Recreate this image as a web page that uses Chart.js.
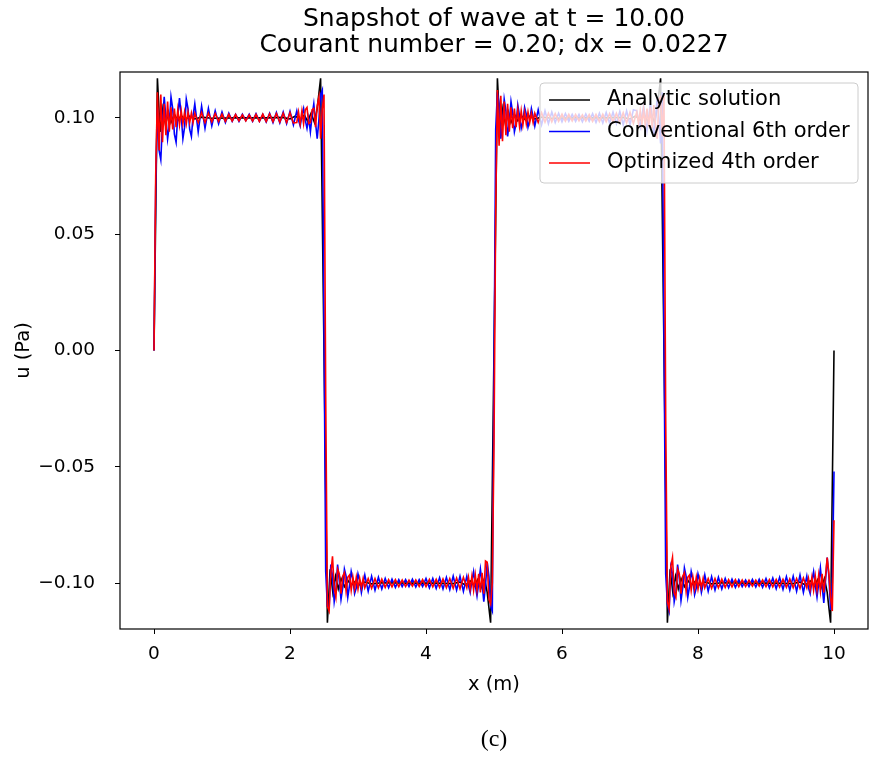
<!DOCTYPE html>
<html>
<head>
<meta charset="utf-8">
<script src="https://cdn.jsdelivr.net/npm/chart.js@4.4.1/dist/chart.umd.min.js"></script>
<style>
  html, body { margin: 0; padding: 0; background: #fff; }
  canvas { display: block; }
</style>
</head>
<body>
<canvas id="chart" width="872" height="762"></canvas>
<script>
// values are in mPa, converted to Pa when the datasets are built
const SEGMENT_STARTS = [0, 2.5, 5, 7.5];
const X_END = 10;

// sample positions inside each 2.5 m segment
const GRID_OFFSETS = [
  0, 0.025, 0.05, 0.075, 0.1, 0.125, 0.15, 0.175, 0.2, 0.225,
  0.25, 0.275, 0.3, 0.325, 0.35, 0.375, 0.4, 0.425, 0.45, 0.475,
  0.5, 0.525, 0.55, 0.575, 0.6,
  0.65, 0.7, 0.75, 0.8, 0.85, 0.9, 0.95, 1.0, 1.05, 1.1,
  1.15, 1.2, 1.25, 1.3, 1.35, 1.4, 1.45, 1.5, 1.55, 1.6,
  1.65, 1.7, 1.75, 1.8, 1.85, 1.9, 1.95, 2.0, 2.05,
  2.1, 2.125, 2.15, 2.175, 2.2, 2.225, 2.25, 2.275, 2.3, 2.325,
  2.35, 2.375, 2.4, 2.425, 2.45, 2.475
];

// Conventional 6th order (blue)
const conv6Seg1 = [
  0, 70, 104, 86, 82, 98, 109, 100, 91, 97,
  109, 104, 93, 89.5, 101, 108.5, 101, 91, 96, 108,
  104, 95, 92, 101, 106,
  94, 105, 95.5, 104, 96.5, 103, 97.5, 102.5, 98, 102,
  98.5, 101.5, 98.5, 101.5, 98.8, 101.5, 98.5, 101.8, 98.5, 101.5,
  98.2, 102, 98, 102.3, 97.8, 102.5, 97.5, 102.8, 97,
  103, 99, 96.5, 101, 104, 99, 95.5, 100, 94, 101, 106, 98, 91, 99, 110, 112
];
const conv6Seg2 = [
  10, -95, -110, -111, -92, -97, -108, -103, -92, -99,
  -107, -102, -94, -97, -106, -101, -95, -98.5, -104.5, -102,
  -96, -99, -104, -100, -96.5,
  -103.5, -97, -103, -97.5, -102.5, -98, -102, -98.3, -101.8, -98.5,
  -101.5, -98.5, -101.5, -98.3, -101.7, -98.5, -101.5, -98, -102, -98,
  -102.3, -97.7, -102.5, -97.5, -102.8, -97, -103, -97, -103.5,
  -97, -101, -104, -99, -95, -101, -105.5, -100, -94, -100, -108, -101, -91, -97, -110, -112
];
const conv6Seg3 = [
  -10, 95, 111, 106, 91, 97, 108, 103, 92, 98,
  107, 102, 94, 97.5, 105.5, 101, 95.5, 98.5, 104.5, 101.5,
  96, 99, 104, 100.5, 96.5,
  103.5, 97, 103, 97.5, 102.5, 98, 102, 98.3, 101.8, 98.5,
  101.5, 98.5, 101.5, 98.3, 101.7, 98.5, 101.8, 98, 102, 97.8,
  102.3, 97.7, 102.5, 97.5, 102.8, 97, 103, 97, 103.5,
  103, 99, 96, 101, 105, 100, 94.5, 100, 106.5, 100, 92, 99, 109, 100, 89, 111
];
const conv6Seg4 = [
  5, -96, -109, -112, -93, -96, -108, -104, -92, -98,
  -107.5, -102, -93.5, -97, -106, -101.5, -95, -98.5, -105, -102,
  -96, -99, -104, -100.5, -96.5,
  -103.5, -97.2, -103, -97.5, -102.5, -98, -102, -98.3, -101.8, -98.5,
  -101.5, -98.6, -101.5, -98.4, -101.7, -98.3, -101.8, -98, -102, -97.8,
  -102.4, -97.5, -102.7, -97.2, -103, -97, -103.5, -96.5, -104,
  -97, -102, -104.5, -99, -95, -101, -106, -100, -93.5, -101, -108.5, -99, -89, -97, -111.5, -100
];
const conv6End = -52;

// Optimized 4th order (red)
const opt4Seg1 = [
  0, 75, 111, 86, 110, 89.5, 106, 92.5, 107, 94,
  104.5, 95, 104, 96, 103.5, 97, 103, 97.5, 102.5, 97.5,
  102.5, 98, 102, 98, 102,
  98, 102.3, 98, 102, 98.3, 101.8, 98.5, 101.6, 98.5, 101.5,
  98.6, 101.4, 98.7, 101.3, 98.7, 101.3, 98.6, 101.5, 98.5, 101.6,
  98.4, 101.7, 98.3, 101.8, 98.2, 102, 98, 102.2, 97.8,
  98, 102.5, 97.5, 103, 97.5, 103.5, 104.5, 97.5, 98, 103.5, 104, 96, 105, 109, 91, 104
];
const opt4Seg2 = [
  110, -20, -110, -112, -96, -88.5, -102, -106, -94, -96,
  -104.5, -97, -95.5, -103.5, -97.5, -96.5, -103, -97.5, -102.5, -97.5,
  -102.5, -98, -102, -98, -102,
  -98, -102.2, -98, -102, -98.3, -101.8, -98.5, -101.6, -98.5, -101.5,
  -98.6, -101.4, -98.7, -101.3, -98.6, -101.4, -98.5, -101.5, -98.4, -101.6,
  -98.3, -101.8, -98.2, -102, -98, -102.2, -97.8, -102.4, -97.5,
  -102, -97.5, -102.5, -97, -103, -96.5, -103, -96, -104, -95.5, -104.5, -90.5, -91, -107, -109, -100
];
const opt4Seg3 = [
  -40, 60, 112, 88, 109.5, 90, 107, 92.5, 106, 94,
  104.5, 95.5, 104, 96, 103.5, 96.5, 103, 97, 102.5, 97.5,
  102.5, 98, 102, 98, 102,
  98, 102.2, 98.1, 102, 98.3, 101.8, 98.5, 101.6, 98.6, 101.5,
  98.6, 101.4, 98.7, 101.3, 98.6, 101.4, 98.5, 101.5, 98.4, 101.6,
  98.3, 101.8, 98.2, 102, 98, 102.2, 97.8, 102.4, 97.6,
  102.5, 97.5, 103, 97, 103.5, 96.5, 104, 96, 104.5, 95.5, 105.5, 97, 91, 108, 109, 92
];
const opt4Seg4 = [
  110, -30, -108, -111, -93, -89, -104, -106, -94, -96,
  -104.5, -97, -95.5, -103.5, -97.5, -96.5, -103, -97.5, -102.5, -97.5,
  -102.5, -98, -102, -98, -102,
  -98, -102.2, -98, -102, -98.3, -101.8, -98.5, -101.6, -98.5, -101.5,
  -98.6, -101.4, -98.7, -101.3, -98.7, -101.3, -98.6, -101.5, -98.5, -101.6,
  -98.4, -101.7, -98.3, -101.8, -98.2, -102, -98, -102.2, -97.8,
  -102, -98, -102.5, -97.5, -103, -97, -103, -96.5, -103.5, -96, -104, -97, -89, -96, -106, -112
];
const opt4End = -73;

// Analytic solution (black)
const analyticX = [
  0, 0.05, 0.09, 0.13, 0.17, 0.21, 0.25, 0.3, 0.35, 0.4, 0.46, 0.52, 0.6, 0.7, 0.85, 1.2, 1.65, 1.9, 2.0, 2.08, 2.15, 2.21, 2.26, 2.31, 2.36, 2.4, 2.45,
  2.5, 2.55, 2.59, 2.63, 2.67, 2.71, 2.75, 2.8, 2.85, 2.9, 2.96, 3.02, 3.1, 3.2, 3.35, 3.7, 4.15, 4.4, 4.5, 4.58, 4.65, 4.71, 4.76, 4.81, 4.86, 4.9, 4.95,
  5.0, 5.05, 5.09, 5.13, 5.17, 5.21, 5.25, 5.3, 5.35, 5.4, 5.46, 5.52, 5.6, 5.7, 5.85, 6.2, 6.65, 6.9, 7.0, 7.08, 7.15, 7.21, 7.26, 7.31, 7.36, 7.4, 7.45,
  7.5, 7.55, 7.59, 7.63, 7.67, 7.71, 7.75, 7.8, 7.85, 7.9, 7.96, 8.02, 8.1, 8.2, 8.35, 8.7, 9.15, 9.4, 9.5, 9.58, 9.65, 9.71, 9.76, 9.81, 9.86, 9.9, 9.95,
  10.0
];
const analyticY = [
  0, 117, 94, 104, 97, 102.5, 98, 101.5, 98.8, 101, 99.2, 100.7, 99.5, 100.3, 99.8, 100, 100, 100.2, 99.5, 100.8, 99, 101.2, 98.5, 102, 98, 104, 117,
  0, -117, -94, -104, -97, -102.5, -98, -101.5, -98.8, -101, -99.2, -100.7, -99.5, -100.3, -99.8, -100, -100, -100.2, -99.5, -100.8, -99, -101.2, -98.5, -102, -98, -104, -117,
  0, 117, 94, 104, 97, 102.5, 98, 101.5, 98.8, 101, 99.2, 100.7, 99.5, 100.3, 99.8, 100, 100, 100.2, 99.5, 100.8, 99, 101.2, 98.5, 102, 98, 104, 117,
  0, -117, -94, -104, -97, -102.5, -98, -101.5, -98.8, -101, -99.2, -100.7, -99.5, -100.3, -99.8, -100, -100, -100.2, -99.5, -100.8, -99, -101.2, -98.5, -102, -98, -104, -117,
  0
];

const X_TICKS_STEP = 2;
const Y_TICKS_STEP = 0.05;

function gridSeries(segments, endValue) {
  const pts = [];
  segments.forEach((seg, s) => {
    GRID_OFFSETS.forEach((off, i) => {
      if (i < seg.length) {
        pts.push({ x: +(SEGMENT_STARTS[s] + off).toFixed(4), y: seg[i] / 1000 });
      }
    });
  });
  pts.push({ x: X_END, y: endValue / 1000 });
  return pts;
}

const analyticPts = analyticX.map((x, i) => ({ x: x, y: analyticY[i] / 1000 }));
const conv6Pts = gridSeries([conv6Seg1, conv6Seg2, conv6Seg3, conv6Seg4], conv6End);
const opt4Pts = gridSeries([opt4Seg1, opt4Seg2, opt4Seg3, opt4Seg4], opt4End);

const FONT = "'DejaVu Sans', 'Liberation Sans', sans-serif";

const frameAndLegend = {
  id: "frameAndLegend",
  afterDatasetsDraw(chart) {
    const { ctx, chartArea } = chart;
    ctx.save();
    ctx.strokeStyle = "#000";
    ctx.lineWidth = 1.2;
    ctx.strokeRect(chartArea.left, chartArea.top, chartArea.right - chartArea.left, chartArea.bottom - chartArea.top);

    // legend box, upper right
    const bw = 318, bh = 100;
    const bx = chartArea.right - 10 - bw;
    const by = chartArea.top + 11;
    const r = 4;
    ctx.beginPath();
    ctx.moveTo(bx + r, by);
    ctx.arcTo(bx + bw, by, bx + bw, by + bh, r);
    ctx.arcTo(bx + bw, by + bh, bx, by + bh, r);
    ctx.arcTo(bx, by + bh, bx, by, r);
    ctx.arcTo(bx, by, bx + bw, by, r);
    ctx.closePath();
    ctx.fillStyle = "rgba(255,255,255,0.8)";
    ctx.fill();
    ctx.strokeStyle = "#cccccc";
    ctx.lineWidth = 1;
    ctx.stroke();

    ctx.font = "21px " + FONT;
    ctx.textBaseline = "middle";
    ctx.textAlign = "left";
    chart.data.datasets.forEach((ds, i) => {
      const y = by + 17 + i * 31.5;
      ctx.strokeStyle = ds.borderColor;
      ctx.lineWidth = 1.3;
      ctx.beginPath();
      ctx.moveTo(bx + 9, y);
      ctx.lineTo(bx + 50, y);
      ctx.stroke();
      ctx.fillStyle = "#000";
      ctx.fillText(ds.label, bx + 67, y);
    });
    ctx.restore();
  }
};

new Chart(document.getElementById("chart"), {
  type: "line",
  data: {
    datasets: [
      { label: "Analytic solution", data: analyticPts, borderColor: "#000000", order: 3 },
      { label: "Conventional 6th order", data: conv6Pts, borderColor: "#0000ff", order: 2 },
      { label: "Optimized 4th order", data: opt4Pts, borderColor: "#ff0000", order: 1 }
    ]
  },
  options: {
    responsive: false,
    devicePixelRatio: 1,
    animation: false,
    events: [],
    layout: { padding: { left: 0, right: 4, top: 0, bottom: 0 } },
    elements: {
      point: { radius: 0 },
      line: { borderWidth: 1.6, tension: 0, fill: false }
    },
    scales: {
      x: {
        type: "linear",
        min: -0.5,
        max: 10.5,
        afterFit: (s) => { s.height = 97.6; },
        border: { display: false },
        grid: { display: true, drawOnChartArea: false, tickLength: 5, color: "#000" },
        ticks: {
          stepSize: X_TICKS_STEP,
          includeBounds: false,
          maxRotation: 0,
          padding: 9,
          color: "#000",
          font: { family: FONT, size: 18.5 }
        },
        title: {
          display: true,
          text: "x (m)",
          color: "#000",
          font: { family: FONT, size: 19.5 },
          padding: { top: 0, bottom: 30 }
        }
      },
      y: {
        type: "linear",
        min: -0.1197,
        max: 0.1197,
        afterFit: (s) => { s.width = 120; },
        border: { display: false },
        grid: { display: true, drawOnChartArea: false, tickLength: 5, color: "#000" },
        ticks: {
          stepSize: Y_TICKS_STEP,
          includeBounds: false,
          padding: 20,
          color: "#000",
          font: { family: FONT, size: 18.5 },
          callback: (v) => (v < -1e-9 ? "\u2212" : "") + Math.abs(v).toFixed(2)
        },
        title: {
          display: true,
          text: "u (Pa)",
          color: "#000",
          font: { family: FONT, size: 19.5 },
          padding: { top: 12, bottom: 0 }
        }
      }
    },
    plugins: {
      legend: { display: false },
      tooltip: { enabled: false },
      title: {
        display: true,
        fullSize: false,
        text: ["Snapshot of wave at t = 10.00", "Courant number = 0.20; dx = 0.0227"],
        color: "#000",
        font: { family: FONT, size: 25, weight: "normal", lineHeight: 1.06 },
        padding: { top: 6, bottom: 13 }
      },
      subtitle: {
        display: true,
        fullSize: false,
        position: "bottom",
        text: "(c)",
        color: "#000",
        font: { family: "'Liberation Serif', 'DejaVu Serif', serif", size: 24, weight: "normal", lineHeight: 1.1 },
        padding: { top: 0, bottom: 9 }
      }
    }
  },
  plugins: [frameAndLegend]
});
</script>
</body>
</html>
